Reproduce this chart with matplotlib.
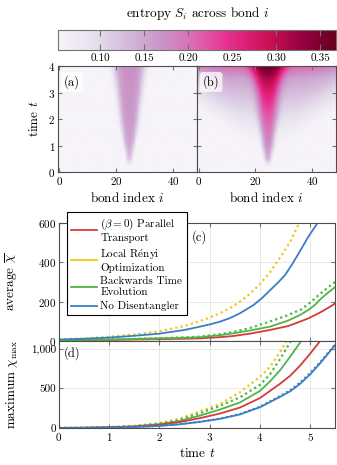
import numpy as np
import matplotlib
matplotlib.use("Agg")
import matplotlib.pyplot as plt
from matplotlib.ticker import FuncFormatter, FormatStrFormatter

plt.rcParams['font.family'] = ['cmr10', 'DejaVu Serif']
plt.rcParams['mathtext.fontset'] = 'cm'
plt.rcParams['axes.formatter.use_mathtext'] = True
plt.rcParams['axes.unicode_minus'] = False

# entropy light cone (a) and (b) at a few times
heat_t = [0.0, 0.2, 0.5, 1.0, 1.5, 2.0, 2.5, 3.0, 3.5, 4.0]
a_peak = [0.052, 0.06, 0.12, 0.15, 0.16, 0.165, 0.168, 0.17, 0.172, 0.175]
a_width = [0.3, 0.6, 1.1, 1.8, 2.6, 3.3, 3.8, 4.4, 5.0, 5.8]
b_peak = [0.052, 0.065, 0.14, 0.175, 0.195, 0.215, 0.24, 0.27, 0.31, 0.37]
b_width = [0.3, 0.6, 1.3, 2.0, 2.6, 3.2, 3.6, 4.1, 4.9, 6.0]
b_bg = [0.052, 0.052, 0.052, 0.056, 0.068, 0.09, 0.11, 0.13, 0.155, 0.21]
b_bg_width = [1, 1, 3, 7, 11, 16, 22, 27, 32, 36]
n_bonds = 49
center = 24.5
s_min, s_max = 0.052, 0.368

# average bond dimension, panel (c)
t_y = [0, 0.5, 1, 1.5, 2, 2.5, 2.81, 3.0, 3.2, 3.4, 3.6, 3.8, 4.0, 4.2, 4.4, 4.6, 4.76, 4.85]
avg_yellow_dot = [8, 12, 20, 32, 48, 75, 100, 118, 140, 166, 199, 240, 290, 350, 425, 505, 591, 640]
t_b = [0, 0.5, 1, 1.5, 2, 2.5, 2.81, 3.0, 3.2, 3.4, 3.6, 3.87, 4.05, 4.2, 4.35, 4.5, 4.65, 4.8, 4.96, 5.1, 5.25]
avg_blue = [6, 10, 16, 25, 36, 55, 72, 83, 97, 115, 140, 182, 220, 258, 295, 336, 395, 460, 531, 585, 645]
t_g = [0, 1, 2, 2.5, 2.81, 3.2, 3.47, 3.8, 4.2, 4.56, 4.8, 4.96, 5.1, 5.22, 5.35, 5.5]
avg_green = [3, 6, 12, 15, 18, 28, 38, 52, 72, 103, 132, 157, 185, 217, 245, 276]
t_gd = [0, 1, 2, 2.5, 2.81, 3.2, 3.47, 3.8, 4.16, 4.5, 4.82, 5.0, 5.16, 5.33, 5.5]
avg_green_dot = [3, 6, 13, 17, 21, 33, 45, 65, 95, 125, 160, 195, 232, 268, 302]
t_r = [0, 1, 2, 2.5, 2.81, 3.2, 3.47, 3.8, 4.2, 4.56, 4.8, 4.96, 5.1, 5.25, 5.4, 5.5]
avg_red = [2, 4, 8, 10, 12, 18, 24, 36, 55, 75, 98, 114, 132, 152, 175, 191]

# maximum bond dimension, panel (d)
t_m = [0, 0.5, 1, 1.5, 2, 2.4, 2.81, 3.2, 3.6, 4.0, 4.2, 4.4, 4.6, 4.8, 5.0, 5.2, 5.5]
max_yellow_dot = [5, 8, 15, 30, 65, 120, 215, 302, 452, 644, 772, 960, 1170, 1400, 1600, 1800, 2000]
max_green_dot = [5, 7, 14, 28, 58, 105, 190, 280, 388, 545, 680, 870, 1080, 1300, 1500, 1700, 2000]
max_green = [5, 7, 13, 25, 52, 92, 160, 235, 324, 470, 590, 730, 900, 1080, 1250, 1400, 1700]
max_red = [5, 7, 12, 22, 45, 78, 128, 185, 260, 380, 470, 560, 660, 790, 940, 1100, 1400]
max_blue = [3, 5, 8, 15, 30, 50, 81, 118, 174, 265, 330, 395, 465, 560, 680, 820, 1050]
max_blue_dot = [3, 5, 8, 15, 31, 52, 84, 122, 180, 272, 340, 408, 480, 578, 698, 835, 1060]

labels = ['($\\beta = 0$) Parallel\nTransport', 'Local R$\\acute{\\mathrm{e}}$nyi\nOptimization',
          'Backwards Time\nEvolution', 'No Disentangler']
red, yellow, green, blue = '#d63a3a', '#f5c518', '#4fb548', '#3a7ec3'
dots = (0, (1, 1.4))


def cone(peak, width, bg, bg_width, sharp):
    tt = np.linspace(0, 4, 161)[:, None]
    d = np.abs(np.arange(n_bonds)[None, :] - center)
    pk = np.interp(tt, heat_t, peak)
    w = np.interp(tt, heat_t, width)
    base = np.interp(tt, heat_t, bg)
    bw = np.interp(tt, heat_t, bg_width)
    back = s_min + (base - s_min) * np.exp(-(d / bw) ** 4)
    return back + (pk - base) * np.exp(-(d / w) ** sharp)


fig = plt.figure(figsize=(3.37, 4.65), dpi=100)
spine_col = '0.3'
tick_col = '0.45'

ax_a = fig.add_axes([0.172, 0.630, 0.413, 0.228])
ax_b = fig.add_axes([0.585, 0.630, 0.412, 0.228])
flat = [s_min] * len(heat_t)
img_a = cone(a_peak, a_width, flat, b_bg_width, 4)
img_b = cone(b_peak, b_width, b_bg, b_bg_width, 3)
for ax, img, tag in [(ax_a, img_a, '(a)'), (ax_b, img_b, '(b)')]:
    im = ax.imshow(img, extent=[-0.5, n_bonds - 0.5, 0, 4], origin='lower', aspect='auto',
                   cmap='PuRd', vmin=s_min, vmax=s_max, interpolation='bilinear')
    ax.set_xticks([0, 20, 40])
    ax.set_yticks([0, 1, 2, 3, 4])
    ax.tick_params(direction='in', top=True, right=True, length=3, color=tick_col,
                   labelsize=8, pad=2)
    for s in ax.spines.values():
        s.set_color(spine_col)
    ax.set_xlabel('bond index $i$', fontsize=9.5, labelpad=3)
    ax.text(0.1, 0.85, tag, transform=ax.transAxes, fontsize=9, ha='center', va='center',
            bbox=dict(boxstyle='round,pad=0.25', fc='white', ec='none', alpha=0.75))
ax_a.set_ylabel('time $t$', fontsize=9.5)
ax_a.yaxis.set_label_coords(-0.12, 0.5)
ax_b.tick_params(labelleft=False)

cax = fig.add_axes([0.172, 0.892, 0.825, 0.043])
cb = fig.colorbar(im, cax=cax, orientation='horizontal')
cb.set_ticks([0.10, 0.15, 0.20, 0.25, 0.30, 0.35])
cb.ax.xaxis.set_major_formatter(FormatStrFormatter('%.2f'))
cb.ax.tick_params(direction='in', top=True, bottom=True, length=4, color=tick_col,
                  labelsize=8, pad=2)
cb.outline.set_edgecolor('0.45')
fig.text(0.585, 0.972, 'entropy $S_i$ across bond $i$', fontsize=9.5, ha='center', va='center')

ax_c = fig.add_axes([0.174, 0.2673, 0.8215, 0.2525])
ax_d = fig.add_axes([0.174, 0.0789, 0.8215, 0.1884], sharex=ax_c)

ax_c.plot(t_r, avg_red, color=red, lw=1.3, label=labels[0])
ax_c.plot([], [], color=yellow, lw=1.3, label=labels[1])
ax_c.plot(t_y, avg_yellow_dot, color=yellow, lw=1.6, ls=dots)
ax_c.plot(t_g, avg_green, color=green, lw=1.3, label=labels[2])
ax_c.plot(t_gd, avg_green_dot, color=green, lw=1.6, ls=dots)
ax_c.plot(t_b, avg_blue, color=blue, lw=1.3, label=labels[3])
ax_c.set_ylim(0, 600)
ax_c.set_yticks([0, 200, 400, 600])
ax_c.set_ylabel('average $\\overline{\\chi}$', fontsize=9.5)
ax_c.yaxis.set_label_coords(-0.14, 0.5)
ax_c.text(0.51, 0.88, '(c)', transform=ax_c.transAxes, fontsize=9, ha='center', va='center')
leg = ax_c.legend(loc='upper left', bbox_to_anchor=(0.03, 1.095), borderaxespad=0,
                  fontsize=8.0, handlelength=2.3, handletextpad=0.3, borderpad=0.4,
                  labelspacing=0.32, fancybox=False, framealpha=1, edgecolor='black')
leg.get_frame().set_linewidth(0.8)
# put each legend line in the middle of its two-line label
for column in leg._legend_handle_box.get_children():
    for row in column.get_children():
        row.align = 'center'

ax_d.plot(t_m, max_yellow_dot, color=yellow, lw=1.6, ls=dots)
ax_d.plot(t_m, max_green_dot, color=green, lw=1.6, ls=dots)
ax_d.plot(t_m, max_green, color=green, lw=1.3)
ax_d.plot(t_m, max_red, color=red, lw=1.3)
ax_d.plot(t_m, max_blue_dot, color=blue, lw=1.4, ls=dots)
ax_d.plot(t_m, max_blue, color=blue, lw=1.3)
ax_d.set_ylim(0, 1100)
ax_d.set_yticks([0, 500, 1000])
ax_d.yaxis.set_major_formatter(FuncFormatter(lambda v, p: '{:,.0f}'.format(v)))
ax_d.set_ylabel('maximum $\\chi_\\mathrm{max}$', fontsize=9.5)
ax_d.yaxis.set_label_coords(-0.14, 0.5)
ax_d.set_xlabel('time $t$', fontsize=9.5, labelpad=3)
ax_d.text(0.05, 0.86, '(d)', transform=ax_d.transAxes, fontsize=9, ha='center', va='center')
ax_d.set_xlim(0, 5.5)
ax_d.set_xticks([0, 1, 2, 3, 4, 5])

for ax in [ax_c, ax_d]:
    ax.grid(True, color='0.88', lw=0.5)
    ax.set_axisbelow(True)
    ax.tick_params(direction='in', top=True, right=True, length=3, color=tick_col,
                   labelsize=8, pad=2)
    for s in ax.spines.values():
        s.set_color(spine_col)
ax_c.tick_params(labelbottom=False)

fig.savefig('out.png', dpi=100)
